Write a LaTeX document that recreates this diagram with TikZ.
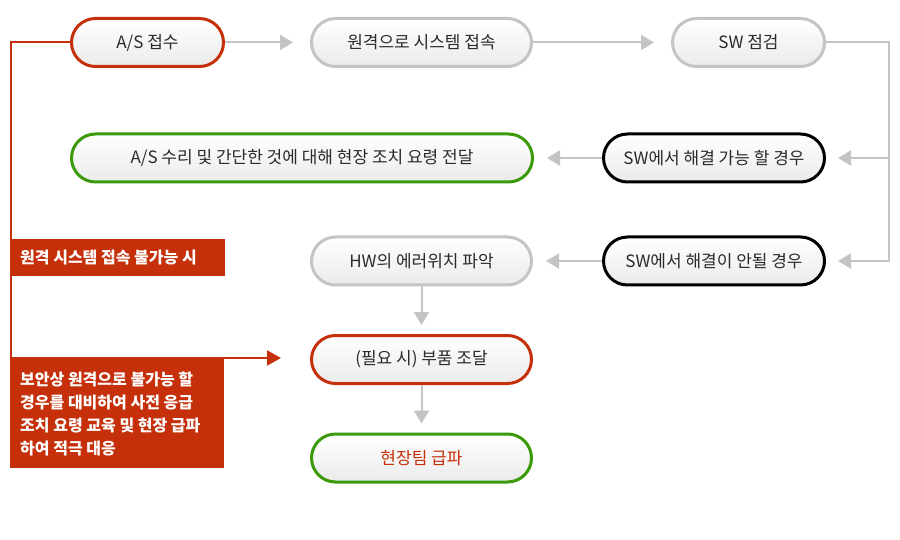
\documentclass[tikz,border=0pt]{standalone}
\usepackage{fontspec}
\setmainfont{Noto Sans CJK KR}
\usetikzlibrary{arrows.meta}
\definecolor{redc}{HTML}{C5300A}
\definecolor{greenc}{HTML}{3A9A0A}
\definecolor{grayc}{HTML}{C4C4C4}
\definecolor{txt}{HTML}{2A2A2A}
\begin{document}
\begin{tikzpicture}[x=1pt,y=-1pt,
  pill/.style={rectangle, rounded corners=24pt, line width=3pt, minimum height=48pt,
    top color=white, bottom color=black!8, text=txt,
    font=\fontsize{17}{20}\selectfont, inner sep=0pt},
  redpill/.style={pill, draw=redc},
  graypill/.style={pill, draw=grayc},
  greenpill/.style={pill, draw=greenc},
  blackpill/.style={pill, draw=black},
  garrow/.style={draw=grayc, line width=2pt, -{Triangle[length=13pt,width=15pt]}},
  rline/.style={draw=redc, line width=2pt},
  redbox/.style={rectangle, fill=redc, anchor=north west, inner sep=0pt},
  boxtext/.style={text=white, font=\bfseries\fontsize{16}{23}\selectfont, anchor=west, align=left, inner sep=0pt}
]
\useasboundingbox (0,0) rectangle (900,540);

% nodes
\node[redpill, minimum width=152pt] (as) at (147.5,42.5) {A/S 접수};
\node[graypill, minimum width=220pt] (remote) at (421.5,42.5) {원격으로 시스템 접속};
\node[graypill, minimum width=152pt] (sw) at (748.5,42.5) {SW 점검};
\node[greenpill, minimum width=461pt] (fix) at (302,158) {A/S 수리 및 간단한 것에 대해 현장 조치 요령 전달};
\node[blackpill, minimum width=221pt] (yes) at (714,158) {SW에서 해결 가능 할 경우};
\node[graypill, minimum width=220pt] (hw) at (421.5,261) {HW의 에러위치 파악};
\node[blackpill, minimum width=221pt] (no) at (714,261) {SW에서 해결이 안될 경우};
\node[redpill, minimum width=220pt] (part) at (421.5,359.5) {(필요 시) 부품 조달};
\node[greenpill, minimum width=220pt, text=redc] (team) at (421.5,458) {현장팀 급파};

% gray connectors
\draw[garrow, shorten >=17pt] (as.east) -- (remote.west);
\draw[garrow, shorten >=17pt] (remote.east) -- (sw.west);
\coordinate (rx) at (889,261);
\coordinate (rm) at (889,158);
\draw[garrow, shorten >=12pt] (sw.east) -| (rx) -- (no.east);
\draw[garrow, shorten >=12pt] (rm) -- (yes.east);
\draw[garrow, shorten >=13pt] (yes.west) -- (fix.east);
\draw[garrow, shorten >=13pt] (no.west) -- (hw.east);
\draw[garrow, shorten >=9pt] (hw.south) -- (part.north);
\draw[garrow, shorten >=9pt] (part.south) -- (team.north);

% red connector
\coordinate (rc) at (11,358);
\coordinate (rtip) at (281,358);
\draw[rline] (as.west) -| (rc);
\draw[rline, -{Triangle[length=14pt,width=15pt]}] (rc) -- (rtip);

% red boxes
\node[redbox, minimum width=214pt, minimum height=37pt] (b1) at (11,239) {};
\node[boxtext] (b1t) at (20,258) {원격 시스템 접속 불가능 시};
\node[redbox, minimum width=214pt, minimum height=110pt] (b2) at (10,358) {};
\node[boxtext] (b2t) at (20,414) {보안상 원격으로 불가능 할\\경우를 대비하여 사전 응급\\조치 요령 교육 및 현장 급파\\하여 적극 대응};
\end{tikzpicture}
\end{document}
